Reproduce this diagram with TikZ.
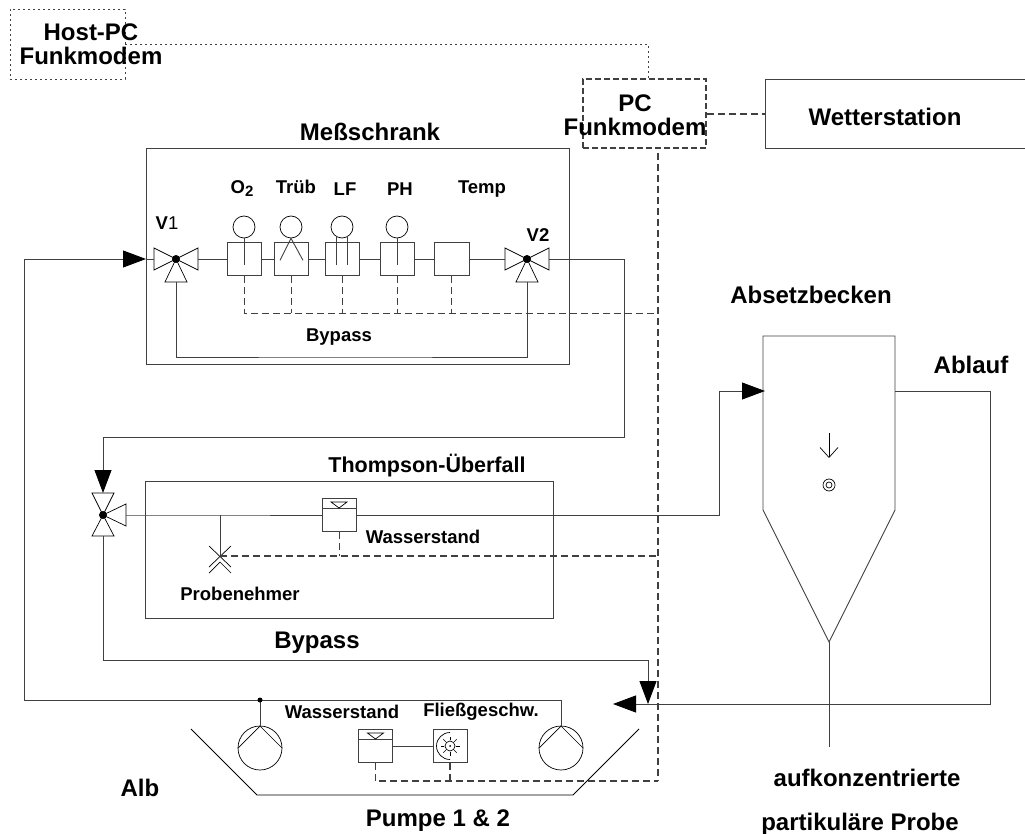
\documentclass[tikz,border=0pt]{standalone}
\usepackage{fontspec}
\setmainfont{Liberation Sans}
\usetikzlibrary{arrows.meta}
\definecolor{lineGray}{gray}{0.25}

\begin{document}
\begin{tikzpicture}[
    x=1pt, y=-1pt,
    big/.style={font=\fontsize{24}{24}\selectfont\bfseries, align=center, inner sep=0pt},
    lab/.style={font=\fontsize{18.5}{20}\selectfont\bfseries, align=center, inner sep=0pt},
    box/.style={draw=lineGray, line width=0.9pt, inner sep=0pt},
    sens/.style={box, minimum width=34pt, minimum height=33pt},
    disc/.style={draw=black, line width=0.7pt, circle, minimum size=22pt, inner sep=0pt},
    p/.style={draw=lineGray, line width=0.9pt},
    a/.style={p, -{Triangle[length=23pt, width=17pt, color=black, fill=black]}},
    d/.style={draw=lineGray, line width=0.8pt, dash pattern=on 7pt off 4pt},
    dd/.style={draw=lineGray, line width=1.3pt, dash pattern=on 7pt off 4pt},
    dot/.style={draw=lineGray, line width=0.9pt, dash pattern=on 2pt off 3pt},
    hub/.pic={\fill[black] (0,0) circle (4pt);},
    valveh/.pic={
      \coordinate (-l) at (-22,0); \coordinate (-r) at (22,0); \coordinate (-b) at (0,23);
      \draw[black, line width=0.7pt] (0,0) -- (-22,-11) -- (-22,11) -- cycle;
      \draw[black, line width=0.7pt] (0,0) -- (22,-11) -- (22,11) -- cycle;
      \draw[black, line width=0.7pt] (0,0) -- (-11,23) -- (11,23) -- cycle;
      \pic {hub};
    },
    valvev/.pic={
      \coordinate (-t) at (0,-22); \coordinate (-b) at (0,21); \coordinate (-r) at (23,0);
      \draw[black, line width=0.7pt] (0,0) -- (-11,-22) -- (11,-22) -- cycle;
      \draw[black, line width=0.7pt] (0,0) -- (-11,21) -- (11,21) -- cycle;
      \draw[black, line width=0.7pt] (0,0) -- (23,-11) -- (23,11) -- cycle;
      \pic {hub};
    },
    level/.pic={
      \node[sens] (-b) at (0,0) {};
      \draw[p, line width=0.7pt] (-17,-7) -- (17,-7);
      \draw[black, line width=0.7pt] (-8,-13) -- (8,-13) -- (0,-7) -- cycle;
    },
    pump/.pic={
      \node[disc, minimum size=44pt] (-c) at (0,0) {};
      \coordinate (-t) at (0,-22);
      \draw[black, line width=0.7pt] (-22,0) -- (0,-22) -- (22,0);
    },
  ]
    \useasboundingbox (0,0) rectangle (1025,834);

    \node[draw=lineGray, line width=0.8pt, dash pattern=on 2pt off 3pt, minimum width=115pt, minimum height=70pt, inner sep=0pt] (host) at (67.5,44) {};
    \node[big] (hosttxt) at (91,44) {Host-PC\\Funkmodem};
    \node[draw=lineGray, line width=1.2pt, dash pattern=on 6pt off 3pt, minimum width=123pt, minimum height=69pt, inner sep=0pt] (pc) at (644.5,113.5) {};
    \node[big] (pctxt) at (635,115) {PC\\Funkmodem};
    \coordinate (wetter) at (765,114);
    \draw[p] (1025,79) -- (765,79) -- (765,148) -- (1025,148);
    \node[big] (wettertxt) at (885,117) {Wetterstation};

    \node[box, minimum width=423pt, minimum height=216pt] (schrank) at (357.5,256) {};
    \node[big] (schranktxt) at (370,132) {Meßschrank};
    \node[lab] (otxt) at (242,189) {O\raisebox{-3pt}{\fontsize{15}{15}\selectfont 2}};
    \node[lab] (truebtxt) at (296,187) {Trüb};
    \node[lab] (lftxt) at (345,189) {LF};
    \node[lab] (phtxt) at (400,189) {PH};
    \node[lab] (temptxt) at (482,189) {Temp};
    \node[lab] (vonetxt) at (167,223) {V\mdseries 1};
    \node[lab] (vtwotxt) at (538,235) {V2};
    \node[lab] (passtxt) at (339,337) {Bypass};

    \node[sens] (o) at (244,259) {};
    \node[sens] (trueb) at (291,259) {};
    \node[sens] (lf) at (342,259) {};
    \node[sens] (ph) at (397,259) {};
    \node[sens, minimum width=35pt] (temp) at (451.5,259) {};
    \node[disc] (oc) at (244,227) {};
    \node[disc] (truebc) at (291,227) {};
    \node[disc] (lfc) at (342,227) {};
    \node[disc] (phc) at (397,227) {};
    \draw[p] (oc.south) -- ++(0,27);
    \draw[p] (phc.south) -- ++(0,27);
    \draw[p] (truebc.south) -- ++(-11,22);
    \draw[p] (truebc.south) -- ++(12,22);
    \draw[p] (336,236) -- (336,265);
    \draw[p] (347,236) -- (347,265);

    \pic (vone) at (176,259) {valveh};
    \pic (vtwo) at (527,259) {valveh};
    \pic (vthree) at (103,515) {valvev};

    \draw[p] (vone-r) -- (o);
    \draw[p] (o) -- (trueb);
    \draw[p] (trueb) -- (lf);
    \draw[p] (lf) -- (ph);
    \draw[p] (ph) -- (temp);
    \draw[p] (temp) -- (vtwo-l);
    \draw[p] (vone-b) |- (339,357) -| (vtwo-b);

    \coordinate (ctltop) at (658,153);
    \coordinate (ctlbus) at (658,313);
    \coordinate (ctlsam) at (658,556);
    \coordinate (ctlbot) at (658,781);
    \draw[dd] (pc.east |- wetter) -- (wetter);
    \coordinate (pctop) at (648,79);
    \draw[dot] (host.east |- 0,44) -| (pctop);
    \draw[dd] (ctltop) -- (ctlbot);
    \draw[d] (o.south) -- (o.south |- ctlbus) -- (ctlbus);
    \draw[d] (trueb.south) -- (trueb.south |- ctlbus);
    \draw[d] (lf.south) -- (lf.south |- ctlbus);
    \draw[d] (ph.south) -- (ph.south |- ctlbus);
    \draw[d] (temp.south) -- (temp.south |- ctlbus);

    \node[box, minimum width=408pt, minimum height=137pt] (thomp) at (349,549.5) {};
    \node[big, font=\fontsize{21.5}{22}\selectfont\bfseries] (thomptxt) at (427,466) {Thompson-Überfall};
    \pic (stand) at (339,515) {level};
    \node[lab] (standtxt) at (423,537) {Wasserstand};
    \node[lab] (probetxt) at (240,594) {Probenehmer};
    \node[big] (passtwotxt) at (317,643) {Bypass};
    \coordinate (probe) at (220,556);
    \coordinate (junc) at (220,515);
    \draw[p] (junc) -- (probe);
    \draw[black, line width=0.7pt] (209,546) -- (231,567);
    \draw[black, line width=0.7pt] (231,546) -- (209,567);
    \draw[black, line width=0.7pt] (209,573) -- (220,562) -- (231,573);
    \draw[dd] (probe) -- (ctlsam);
    \draw[d] (stand-b.south) -- (stand-b.south |- ctlsam);

    \node[big] (absetztxt) at (811,295) {Absetzbecken};
    \node[big] (ablauftxt) at (971,365) {Ablauf};
    \coordinate (bastl) at (763,336);
    \coordinate (bastr) at (895,336);
    \coordinate (basl) at (763,510);
    \coordinate (basr) at (895,510);
    \coordinate (basbot) at (829,642);
    \coordinate (basin) at (765,391);
    \coordinate (basout) at (895,391);
    \draw[p] (basl) -- (bastl) -- (bastr) -- (basr) -- (basbot) -- cycle;
    \coordinate (basend) at (829,747);
    \draw[p] (basbot) -- (basend);
    \draw[black, line width=0.7pt, -{Straight Barb[length=10pt, width=18pt]}] (829,433) -- (829,458);
    \node[disc, minimum size=12pt] (ringa) at (829,485) {};
    \node[disc, minimum size=6pt] (ringb) at (829,485) {};

    \coordinate (vtwoturn) at (624,437);
    \coordinate (inflow) at (146,259);
    \draw[a] (vtwo-r) -| (vtwoturn) -| (vthree-t);
    \draw[a] (vthree-r) -- (junc) -- (stand-b) -- (719,515) |- (basin);
    \coordinate (leftup) at (24,259);
    \coordinate (pumpline) at (24,700);
    \draw[a] (561,700) -- (pumpline) -- (leftup) -- (inflow);
    \draw[p] (inflow) -- (vone-l);
    \coordinate (flowin) at (648,704);
    \draw[a] (vthree-b) |- (648,660) -- (flowin);
    \coordinate (retend) at (613,704);
    \draw[a] (basout) -| (990,704) -- (retend);

    \pic (pumpa) at (260,748) {pump};
    \pic (pumpb) at (561,748) {pump};
    \draw[p] (260,700) -- (pumpa-t);
    \draw[p] (561,700) -- (pumpb-t);
    \fill[black] (260,700) circle (2.5pt);
    \draw[black, line width=0.8pt] (191,729) -- (257,795) -- (573,795) -- (639,729);

    \pic (standb) at (375.5,746) {level};
    \node[sens] (fluss) at (450,746) {};
    \draw[p] (standb-b) -- (fluss);
    \draw[black, line width=0.7pt] (450,732.5) arc (90:270:13.5 and -13.5);
    \draw[black, line width=0.7pt] (450,746) circle (5pt);
    \fill[black] (450,746) circle (1pt);
    \foreach \w in {0,45,...,315}
      \draw[black, line width=0.6pt] (450,746) ++(\w:6) -- ++(\w:3.5);
    \draw[dd] (standb-b.south) |- (ctlbot);
    \draw[dd] (fluss.south) -- (fluss.south |- ctlbot);
    \node[lab] (wasstxt) at (342,712) {Wasserstand};
    \node[lab] (fliesstxt) at (481,712) {Fließgeschw.};
    \node[big] (albtxt) at (140,788) {Alb};
    \node[big] (pumpetxt) at (438,821) {Pumpe 1 \& 2};
    \node[big] (auftxt) at (867,778) {aufkonzentrierte};
    \node[big] (parttxt) at (860,824) {partikuläre Probe};
  \end{tikzpicture}
\end{document}
